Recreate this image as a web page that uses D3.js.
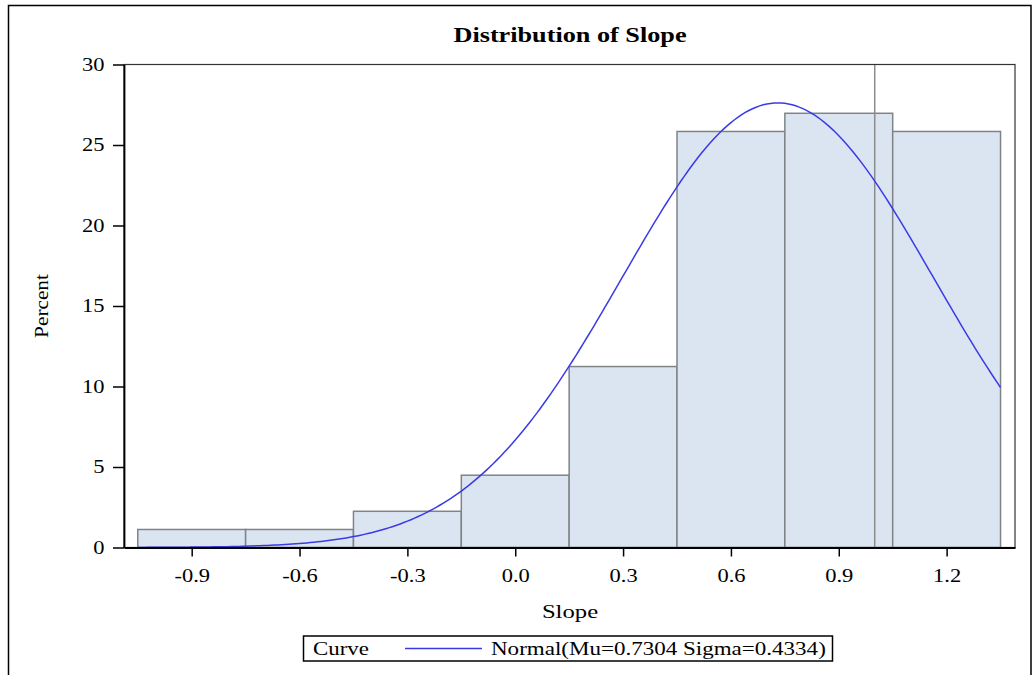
<!DOCTYPE html>
<html>
<head>
<meta charset="utf-8">
<script src="https://cdn.jsdelivr.net/npm/d3@7"></script>
<style>
  html, body { margin: 0; padding: 0; background: #fff; }
  svg { display: block; font-family: "Liberation Serif", "Times New Roman", serif; }
</style>
</head>
<body>
<svg id="chart" width="1032" height="675"></svg>
<script>
// Histogram bins of Slope (midpoints, bin width 0.3) and their percentages
const binMidpoints = [-0.9, -0.6, -0.3, 0.0, 0.3, 0.6, 0.9, 1.2];
const binPercents  = [1.12, 1.12, 2.25, 4.49, 11.24, 25.84, 26.97, 25.84];
const binWidth = 0.3;

// Fitted normal curve parameters
const normalMu = 0.7304;
const normalSigma = 0.4334;

// Axis ticks and reference line
const xTickValues = [-0.9, -0.6, -0.3, 0.0, 0.3, 0.6, 0.9, 1.2];
const yTickValues = [0, 5, 10, 15, 20, 25, 30];
const referenceLines = [1.0];

// Text is drawn slightly widened, as in the exported graph
const SX = 1.25;

const svg = d3.select("#chart");

function label(parent, x, y, str, size, opts = {}) {
  const g = parent.append("g")
    .attr("transform", `translate(${x},${y}) ${opts.rotate ? `rotate(${opts.rotate})` : ""} scale(${opts.sx || SX},1)`);
  return g.append("text")
    .attr("text-anchor", opts.anchor || "start")
    .style("font-size", size + "px")
    .style("font-weight", opts.bold ? "bold" : "normal")
    .attr("fill", "#000")
    .text(str);
}

// Outer frame
svg.append("rect")
  .attr("x", 8.5).attr("y", 5.5)
  .attr("width", 1022.5).attr("height", 700)
  .attr("fill", "none").attr("stroke", "#000").attr("stroke-width", 1.5);

const plot = { left: 124, top: 64.5, right: 1015, bottom: 547.5 };

const x = d3.scaleLinear()
  .domain([-1.0883, 1.3902])
  .range([plot.left, plot.right]);
const y = d3.scaleLinear()
  .domain([0, 30])
  .range([plot.bottom, plot.top]);

// Bars
const bins = binMidpoints.map((m, i) => ({ x0: m - binWidth / 2, x1: m + binWidth / 2, v: binPercents[i] }));
svg.append("g").selectAll("rect")
  .data(bins)
  .join("rect")
  .attr("x", d => x(d.x0))
  .attr("y", d => y(d.v))
  .attr("width", d => x(d.x1) - x(d.x0))
  .attr("height", d => y(0) - y(d.v))
  .attr("fill", "#dbe5f1")
  .attr("stroke", "#7f8487")
  .attr("stroke-width", 1.5);

// Reference line
svg.append("g").selectAll("line")
  .data(referenceLines)
  .join("line")
  .attr("x1", d => x(d)).attr("x2", d => x(d))
  .attr("y1", plot.top).attr("y2", plot.bottom)
  .attr("stroke", "#8c8c8c").attr("stroke-width", 1.5);

// Normal density scaled to percent per bin
const pdf = v => Math.exp(-0.5 * ((v - normalMu) / normalSigma) ** 2) / (normalSigma * Math.sqrt(2 * Math.PI));
const curveX = d3.range(0, 241).map(i => bins[0].x0 + i * (bins[bins.length - 1].x1 - bins[0].x0) / 240);
svg.append("path")
  .datum(curveX)
  .attr("fill", "none")
  .attr("stroke", "#3a3ae6")
  .attr("stroke-width", 1.5)
  .attr("d", d3.line().x(d => x(d)).y(d => y(100 * binWidth * pdf(d))));

// Plot frame
svg.append("rect")
  .attr("x", plot.left).attr("y", plot.top)
  .attr("width", plot.right - plot.left).attr("height", plot.bottom - plot.top)
  .attr("fill", "none").attr("stroke", "#333").attr("stroke-width", 1.2);

// Axes
const fmtX = v => d3.format(".1f")(v).replace("\u2212", "-");
const xAxis = svg.append("g")
  .attr("transform", `translate(0,${plot.bottom})`)
  .call(d3.axisBottom(x).tickValues(xTickValues).tickFormat(fmtX).tickSize(9).tickSizeOuter(0));
const yAxis = svg.append("g")
  .attr("transform", `translate(${plot.left},0)`)
  .call(d3.axisLeft(y).tickValues(yTickValues).tickFormat(d3.format("d")).tickSize(11).tickSizeOuter(0));

[xAxis, yAxis].forEach(g => {
  g.select(".domain").attr("stroke", "#000").attr("stroke-width", 1.8);
  g.selectAll(".tick line").attr("stroke", "#000").attr("stroke-width", 1.5);
  g.selectAll(".tick text")
    .attr("fill", "#000")
    .style("font-family", "Liberation Serif, serif")
    .style("font-size", "18px");
});
xAxis.selectAll(".tick text").attr("y", 0).attr("dy", 0)
  .attr("transform", `translate(0,34.5) scale(${SX},1)`);
yAxis.selectAll(".tick text").attr("x", 0).attr("dy", "0.32em")
  .attr("transform", `translate(-19.5,0) scale(${SX},1)`);

// Title and axis labels
label(svg, 570, 42, "Distribution of Slope", 21.5, { anchor: "middle", bold: true, sx: 1.22 });
label(svg, 570, 618, "Slope", 19, { anchor: "middle", sx: 1.3 });
label(svg, 48, 306, "Percent", 19, { anchor: "middle", rotate: -90, sx: 1.12 });

// Legend
const legend = svg.append("g");
legend.append("rect")
  .attr("x", 303.5).attr("y", 636)
  .attr("width", 529).attr("height", 25)
  .attr("fill", "#fff").attr("stroke", "#000").attr("stroke-width", 1.5);
label(legend, 313, 655, "Curve", 18, { sx: 1.27 });
legend.append("line")
  .attr("x1", 405).attr("x2", 482)
  .attr("y1", 648.5).attr("y2", 648.5)
  .attr("stroke", "#3a3ae6").attr("stroke-width", 1.5);
label(legend, 491, 655, `Normal(Mu=${normalMu.toFixed(4)} Sigma=${normalSigma.toFixed(4)})`, 18, { sx: 1.28 });
</script>
</body>
</html>
